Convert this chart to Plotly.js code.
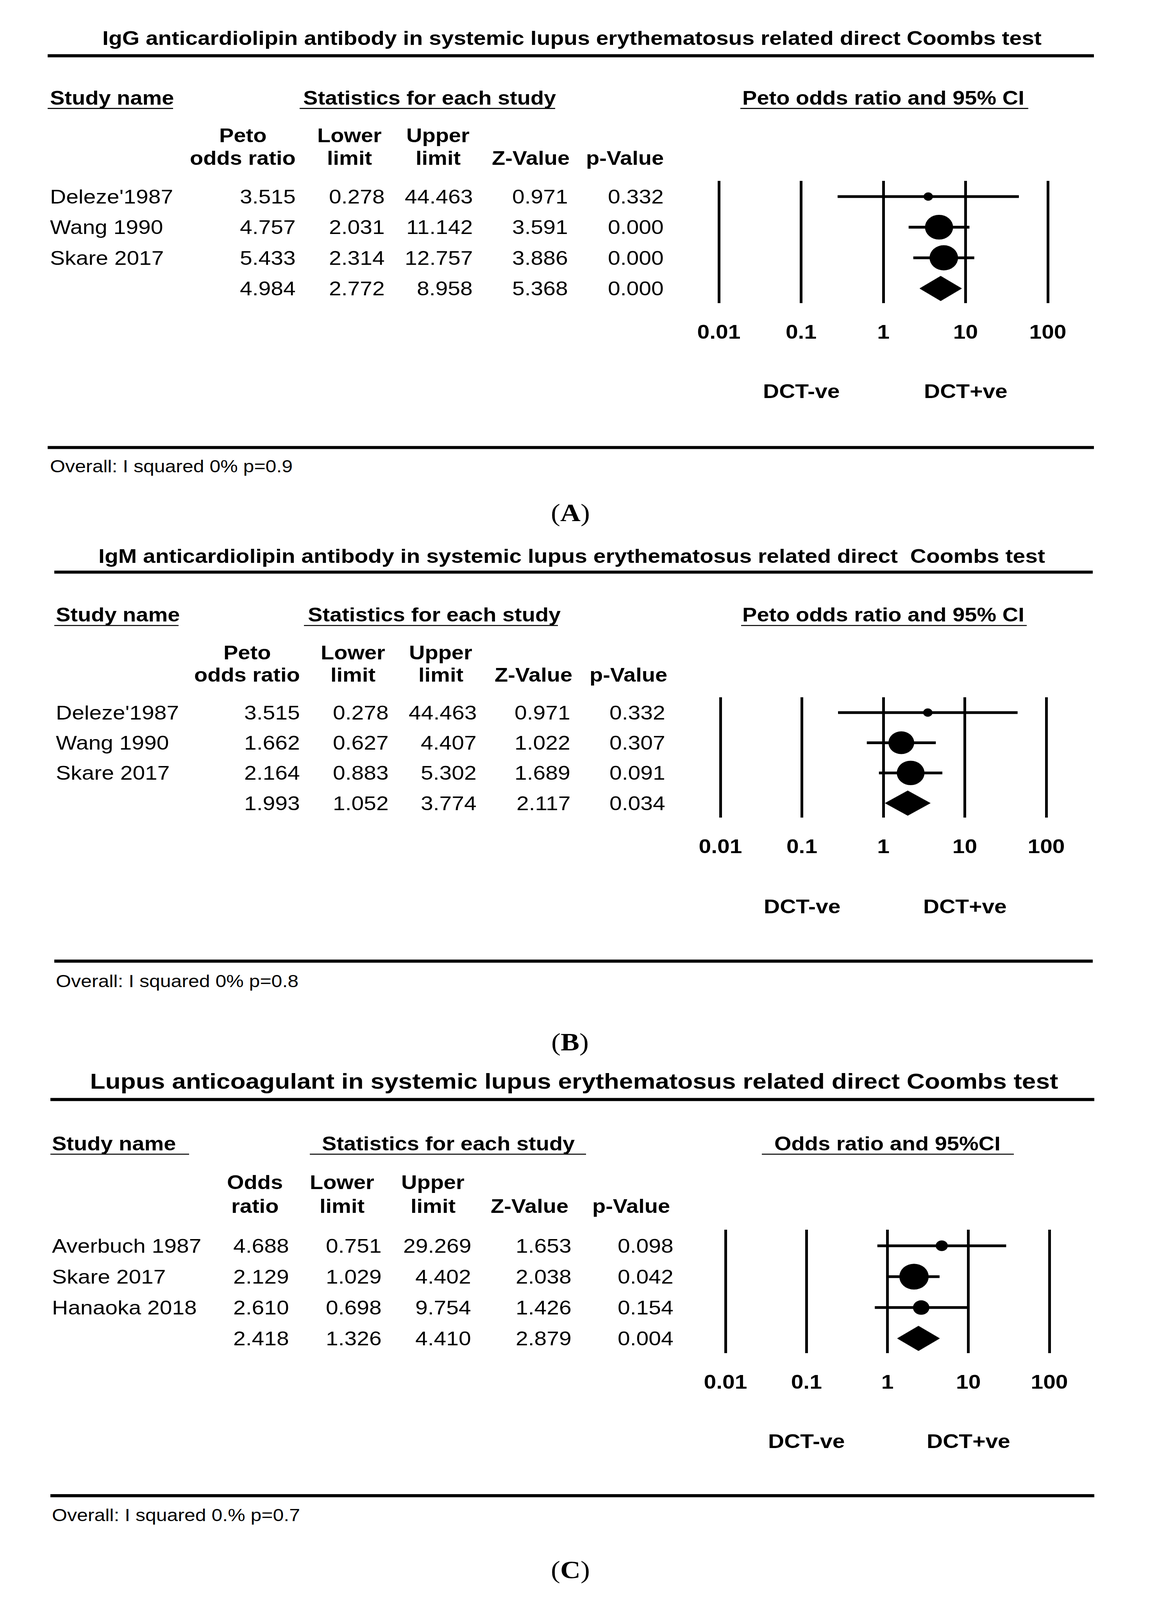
<!DOCTYPE html>
<html><head><meta charset="utf-8">
<script src="https://cdn.plot.ly/plotly-3.0.1.min.js"></script>
<style>
html,body{margin:0;padding:0;background:#fff;overflow:hidden}
#wrap{position:relative;overflow:hidden}
#chart{width:2941px;height:4648px;transform-origin:0 0}
</style>
</head><body><div id="wrap"><div id="chart"></div></div>
<script>
// ---------------- data ----------------
const tickVals = [0.01, 0.1, 1, 10, 100];
const tickText = ["0.01", "0.1", "1", "10", "100"];
const sideLabels = ["DCT-ve", "DCT+ve"];
const sideAt = [0.1, 10];

const titleA = "IgG anticardiolipin antibody in systemic lupus erythematosus related direct Coombs test";
const studiesA = ["Deleze'1987", "Wang 1990", "Skare 2017", ""];
const oddsA  = [3.515, 4.757, 5.433, 4.984];
const lowerA = [0.278, 2.031, 2.314, 2.772];
const upperA = [44.463, 11.142, 12.757, 8.958];
const zA     = [0.971, 3.591, 3.886, 5.368];
const pA     = [0.332, 0.000, 0.000, 0.000];
const weightA = [5.2, 46.7, 48.1];
const headTopA = ["Peto", "Lower", "Upper", "", ""];
const headBotA = ["odds ratio", "limit", "limit", "Z-Value", "p-Value"];
const plotHeadA = "Peto odds ratio and 95% CI";
const hetA = "Overall: I squared 0% p=0.9";

const titleB = "IgM anticardiolipin antibody in systemic lupus erythematosus related direct\u00a0 Coombs test";
const studiesB = ["Deleze'1987", "Wang 1990", "Skare 2017", ""];
const oddsB  = [3.515, 1.662, 2.164, 1.993];
const lowerB = [0.278, 0.627, 0.883, 1.052];
const upperB = [44.463, 4.407, 5.302, 3.774];
const zB     = [0.971, 1.022, 1.689, 2.117];
const pB     = [0.332, 0.307, 0.091, 0.034];
const weightB = [5.8, 43.7, 50.5];
const headTopB = ["Peto", "Lower", "Upper", "", ""];
const headBotB = ["odds ratio", "limit", "limit", "Z-Value", "p-Value"];
const plotHeadB = "Peto odds ratio and 95% CI";
const hetB = "Overall: I squared 0% p=0.8";

const titleC = "Lupus anticoagulant in systemic lupus erythematosus related direct Coombs test";
const studiesC = ["Averbuch 1987", "Skare 2017", "Hanaoka 2018", ""];
const oddsC  = [4.688, 2.129, 2.610, 2.418];
const lowerC = [0.751, 1.029, 0.698, 1.326];
const upperC = [29.269, 4.402, 9.754, 4.410];
const zC     = [1.653, 2.038, 1.426, 2.879];
const pC     = [0.098, 0.042, 0.154, 0.004];
const weightC = [11.5, 67.4, 21.1];
const headTopC = ["Odds", "Lower", "Upper", "", ""];
const headBotC = ["ratio", "limit", "limit", "Z-Value", "p-Value"];
const plotHeadC = "Odds ratio and 95%CI";
const hetC = "Overall: I squared 0.% p=0.7";

const panelLabels = ["A", "B", "C"];

// ---------------- layout geometry (pixels) ----------------
const W = 2941, H = 4648;
const FONT = "Liberation Sans, Arial, sans-serif";
const geo = [
  {titleX:1464, titleY:111, titleSize:57, ruleTop:162, ruleX:[122,2800], nameX:127, statX:775,
   ulName:[122,443], ulStat:[767,1421], ulPlot:[1895,2632], secY:284, ulY:315, hdrY:[393,459],
   hdrX:[621,894,1121,1358,1599], colR:[758,986,1211,1455,1700], rowY0:571, rowSp:89,
   gridTop:525, gridBot:881, x0:1840, x4:2682, dctY:1136, botRule:1300, hetX:127, hetY:1355,
   lblX:1460, lblY:1490, sizeK:10.53},
  {titleX:1463, titleY:1615, titleSize:57, ruleTop:1662, ruleX:[139,2797], nameX:142, statX:787,
   ulName:[139,457], ulStat:[778,1428], ulPlot:[1897,2628], secY:1785, ulY:1817, hdrY:[1895,1960],
   hdrX:[632,903,1128,1365,1608], colR:[769,996,1221,1461,1704], rowY0:2070, rowSp:87.7,
   gridTop:2025, gridBot:2375, x0:1844, x4:2678, dctY:2633, botRule:2792, hetX:142, hetY:2850,
   lblX:1459, lblY:3027, sizeK:9.99},
  {titleX:1469, titleY:3141, titleSize:64, ruleTop:3194, ruleX:[129,2801], nameX:132, statX:823,
   ulName:[129,484], ulStat:[793,1500], ulPlot:[1950,2595], secY:3322, ulY:3353, hdrY:[3434,3504],
   hdrX:[652,875,1108,1355,1615], colR:[741,978,1207,1464,1725], rowY0:3619, rowSp:89.7,
   gridTop:3572, gridBot:3931, x0:1857, x4:2686, dctY:4187, botRule:4345, hetX:132, hetY:4402,
   lblX:1460, lblY:4560, sizeK:9.14}
];

const panels = [
  {title:titleA, studies:studiesA, odds:oddsA, lower:lowerA, upper:upperA, z:zA, p:pA, w:weightA,
   hTop:headTopA, hBot:headBotA, plotHead:plotHeadA, het:hetA},
  {title:titleB, studies:studiesB, odds:oddsB, lower:lowerB, upper:upperB, z:zB, p:pB, w:weightB,
   hTop:headTopB, hBot:headBotB, plotHead:plotHeadB, het:hetB},
  {title:titleC, studies:studiesC, odds:oddsC, lower:lowerC, upper:upperC, z:zC, p:pC, w:weightC,
   hTop:headTopC, hBot:headBotC, plotHead:plotHeadC, het:hetC}
];

const px = x => x / W;
const py = y => 1 - y / H;

function ann(text, x, y, xanchor, size, extra) {
  return Object.assign({
    text: text, xref: 'paper', yref: 'paper', x: px(x), y: py(y),
    xanchor: xanchor, yanchor: 'middle', showarrow: false, borderpad: 0,
    font: {family: FONT, size: size, color: '#000'}
  }, extra || {});
}
function hline(x0, x1, y, w) {
  return {type: 'line', xref: 'paper', yref: 'paper', x0: px(x0), x1: px(x1), y0: py(y), y1: py(y),
          line: {color: '#000', width: w}};
}

const data = [], annotations = [], shapes = [];
const layout = {
  width: W, height: H, margin: {l: 0, r: 0, t: 0, b: 0},
  paper_bgcolor: '#fff', plot_bgcolor: '#fff', showlegend: false,
  font: {family: FONT, color: '#000'}
};

panels.forEach((P, k) => {
  const g = geo[k];
  const sfx = k === 0 ? '' : String(k + 1);
  const xa = 'x' + sfx, ya = 'y' + sfx;
  const dec = (g.x4 - g.x0) / 4;
  layout['xaxis' + sfx] = {
    type: 'log', range: [-2.2, 2.2], anchor: ya,
    domain: [px(g.x0 - 0.2 * dec), px(g.x4 + 0.2 * dec)],
    tickmode: 'array', tickvals: tickVals, ticktext: tickText.map(t => '<b>' + t + '</b>'),
    showgrid: true, gridcolor: '#000', gridwidth: 7, zeroline: false, showline: false,
    ticks: '', ticklabelstandoff: 45,
    tickfont: {family: FONT, size: 57, color: '#000'}, fixedrange: true
  };
  const n = P.studies.length;
  layout['yaxis' + sfx] = {
    range: [1 + (g.gridBot - g.rowY0) / g.rowSp, 1 - (g.rowY0 - g.gridTop) / g.rowSp],
    domain: [py(g.gridBot), py(g.gridTop)], anchor: xa,
    visible: false, showgrid: false, zeroline: false, fixedrange: true
  };

  const nst = n - 1;
  const rows = P.odds.slice(0, nst).map((v, i) => i + 1);
  data.push({
    type: 'scatter', mode: 'markers', xaxis: xa, yaxis: ya,
    x: P.odds.slice(0, nst), y: rows,
    marker: {color: '#000', opacity: 1, size: P.w.map(w => g.sizeK * Math.sqrt(w)), line: {width: 0}},
    error_x: {type: 'data', symmetric: false,
      array: P.upper.slice(0, nst).map((u, i) => u - P.odds[i]),
      arrayminus: P.lower.slice(0, nst).map((l, i) => P.odds[i] - l),
      color: '#000', thickness: 8, width: 0},
    hoverinfo: 'skip'
  });
  const hh = 36 / g.rowSp;
  const e = P.odds[nst], lo = P.lower[nst], hi = P.upper[nst];
  data.push({
    type: 'scatter', mode: 'lines', xaxis: xa, yaxis: ya, fill: 'toself',
    x: [lo, e, hi, e, lo], y: [n, n - hh, n, n + hh, n],
    fillcolor: '#000', line: {color: '#000', width: 1}, hoverinfo: 'skip'
  });

  annotations.push(ann('<b>' + P.title + '</b>', g.titleX, g.titleY, 'center', g.titleSize));
  shapes.push(hline(g.ruleX[0], g.ruleX[1], g.ruleTop, 9));
  annotations.push(ann('<b>Study name</b>', g.nameX, g.secY, 'left', 56));
  annotations.push(ann('<b>Statistics for each study</b>', g.statX, g.secY, 'left', 56));
  annotations.push({text: '<b>' + P.plotHead + '</b>', xref: xa, yref: 'paper', x: 0, y: py(g.secY),
    xanchor: 'center', yanchor: 'middle', showarrow: false, borderpad: 0,
    font: {family: FONT, size: 56, color: '#000'}});
  shapes.push(hline(g.ulName[0], g.ulName[1], g.ulY, 3));
  shapes.push(hline(g.ulStat[0], g.ulStat[1], g.ulY, 3));
  shapes.push(hline(g.ulPlot[0], g.ulPlot[1], g.ulY, 3));
  P.hTop.forEach((t, j) => { if (t) annotations.push(ann('<b>' + t + '</b>', g.hdrX[j], g.hdrY[0], 'center', 56)); });
  P.hBot.forEach((t, j) => annotations.push(ann('<b>' + t + '</b>', g.hdrX[j], g.hdrY[1], 'center', 56)));
  const cols = [P.odds, P.lower, P.upper, P.z, P.p];
  for (let i = 0; i < n; i++) {
    const y = g.rowY0 + i * g.rowSp;
    if (P.studies[i]) annotations.push(ann(P.studies[i], g.nameX, y, 'left', 57));
    cols.forEach((c, j) => annotations.push(ann(c[i].toFixed(3), g.colR[j], y, 'right', 57)));
  }
  sideLabels.forEach((s, j) => annotations.push({text: '<b>' + s + '</b>', xref: xa, yref: 'paper',
    x: Math.log10(sideAt[j]), y: py(g.dctY), xanchor: 'center', yanchor: 'middle', showarrow: false,
    borderpad: 0, font: {family: FONT, size: 57, color: '#000'}}));
  shapes.push(hline(g.ruleX[0], g.ruleX[1], g.botRule, 9));
  annotations.push(ann(P.het, g.hetX, g.hetY, 'left', 50));
  annotations.push(ann('(<b>' + panelLabels[k] + '</b>)', g.lblX, g.lblY, 'center', 72,
    {font: {family: 'Liberation Serif, Times New Roman, serif', size: 72, color: '#000'}}));
});
layout.annotations = annotations;
layout.shapes = shapes;

// The window may be shorter than the requested canvas: fit the whole figure into it.
const vw = window.innerWidth || W, vh = window.innerHeight || H;
const sx = Math.min(1, vw / W), sy = Math.min(1, vh / H);
const wrap = document.getElementById('wrap');
wrap.style.width = Math.round(W * sx) + 'px';
wrap.style.height = Math.round(H * sy) + 'px';
document.getElementById('chart').style.transform = 'scale(' + sx + ',' + sy + ')';

Plotly.newPlot('chart', data, layout, {staticPlot: true, displayModeBar: false});
</script></body></html>
